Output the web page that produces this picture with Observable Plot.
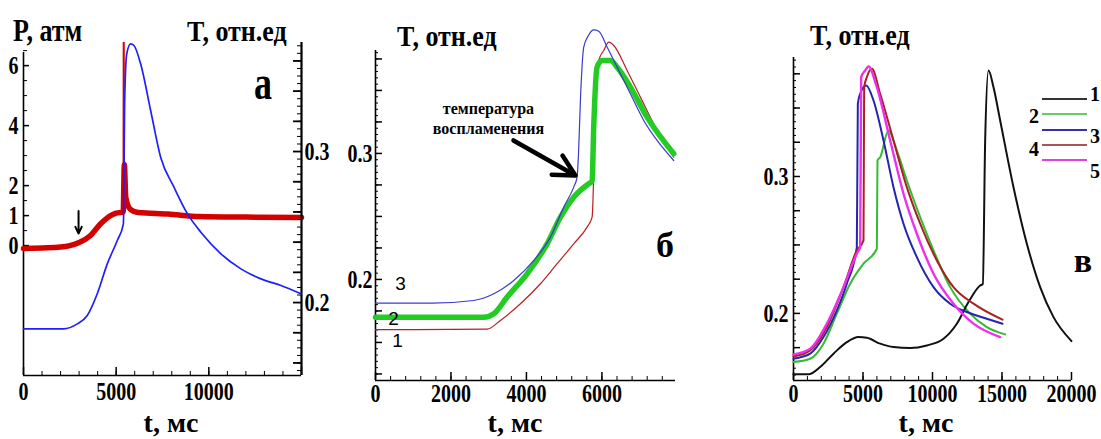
<!DOCTYPE html>
<html><head><meta charset="utf-8">
<script src="https://cdn.jsdelivr.net/npm/d3@7"></script>
<script src="https://cdn.jsdelivr.net/npm/@observablehq/plot@0.6"></script>
<style>
body{margin:0;background:#fff;}
#wrap{position:relative;width:1101px;height:439px;overflow:hidden;background:#fff;color:#000;}
</style></head><body><div id="wrap"></div>
<script>
// ---------- Panel а : pressure (red) and temperature (blue) ----------
const aTimeP = [0,1000,2000,2500,3000,3600,4150,4700,5000,5380,5440,5520,5750,6200,7800,9500,12000,15000];
const aPres  = [-0.1,-0.08,-0.05,0,0.1,0.33,0.72,1.0,1.08,1.12,2.7,1.6,1.22,1.1,1.05,0.97,0.95,0.94];
const aSpikeTime = [5390,5405,5430];
const aSpikeP    = [1.12,9,2.7];
const aTimeT = [0,2160,2900,3440,3980,4520,5060,5390,5460,5570,5780,5960,6320,6860,7400,8120,8850,9570,10650,11730,12810,13890,14970];
const aTemp  = [0.1826,0.1826,0.1859,0.1914,0.2058,0.2256,0.2411,0.2521,0.3338,0.3647,0.3713,0.3702,0.3581,0.3272,0.2962,0.2764,0.2587,0.2466,0.2323,0.2223,0.2157,0.2113,0.2058];
const aArrow = {t: 2970, p1: 1.15, p2: 0.4};
const aXLabels = [0,5000,10000];
const aPLabels = [0,1,2,4,6];
const aTLabels = [0.2,0.3];

// ---------- Panel б ----------
const bTime3 = [0,1500,2600,3135,3665,4195,4636,4989,5253,5342,5380,5430,5518,5650,5783,5916,6137,6402,6755,7108,7462,7903];
const bTemp3 = [0.1812,0.1812,0.1833,0.1886,0.1992,0.2151,0.2336,0.2574,0.2733,0.2812,0.30,0.342,0.3844,0.394,0.398,0.397,0.3844,0.3685,0.3474,0.3262,0.3103,0.2944];
const bTime2 = [0,2870,3135,3488,4018,4548,4901,5253,5651,5740,5783,5872,6005,6225,6402,6755,7197,7903];
const bTemp2 = [0.170,0.170,0.1728,0.186,0.2045,0.2283,0.2494,0.2653,0.276,0.278,0.321,0.3685,0.3738,0.3738,0.3685,0.3526,0.3288,0.2998];
const bTime1 = [0,2958,3311,3841,4371,4813,5253,5607,5740,5790,5828,5916,6048,6181,6314,6667,7020,7462,7903];
const bTemp1 = [0.1601,0.1605,0.1675,0.1807,0.1966,0.2125,0.2283,0.2415,0.2494,0.29,0.3288,0.3738,0.3817,0.3883,0.3857,0.3659,0.3447,0.3183,0.297];
const bCurveLabels = [{t:662,T:0.1968,s:"3"},{t:477,T:0.169,s:"2"},{t:583,T:0.1516,s:"1"}];
const bNote = {t:2993, T:0.3282, s:"температура\nвоспламенения"};
const bArrow = {t1:3656, T1:0.3103, t2:5298, T2:0.2825};
const bXLabels = [0,2000,4000,6000];
const bTLabels = [0.2,0.3];

// ---------- Panel в ----------
const vTime1 = [0,1079,1918,2878,3837,4676,5276,6235,7194,8393,9592,10791,11750,12590,13429,13621,13789,14029,14389,14868,15827,16787,17746,18705,20000];
const vTemp1 = [0.1555,0.1555,0.1608,0.1706,0.179,0.1827,0.1822,0.1779,0.1754,0.1747,0.1766,0.1815,0.1925,0.2083,0.2204,0.2215,0.3263,0.3774,0.3652,0.3409,0.2922,0.2509,0.2192,0.1973,0.1798];
const vTime2 = [0,1199,2158,3117,4077,5036,5995,6043,6235,6835,7434,8153,9112,10072,11271,12710,13909,15228];
const vTemp2 = [0.1645,0.1669,0.1779,0.1998,0.2217,0.2363,0.2472,0.3117,0.314,0.3336,0.319,0.2971,0.2703,0.246,0.2192,0.1998,0.19,0.1847];
const vTime3 = [0,1199,2158,3117,3837,4556,4628,4796,5227,5755,6475,7194,7913,8873,10072,11271,12470,13909,15036];
const vTemp3 = [0.1669,0.1706,0.1827,0.2022,0.2217,0.2484,0.353,0.3604,0.3664,0.3555,0.3263,0.2922,0.2655,0.2411,0.2192,0.2071,0.201,0.1961,0.1925];
const vTime4 = [0,1199,2398,3597,4556,5036,5084,5276,5636,6235,7194,8153,9112,10312,11511,12950,15036];
const vTemp4 = [0.1686,0.173,0.19,0.2192,0.246,0.2533,0.3652,0.3725,0.3786,0.3604,0.3263,0.2922,0.2655,0.2387,0.2192,0.2071,0.1954];
const vTime5 = [0,1199,2398,3597,4556,4796,4868,5156,5396,5995,6955,7913,8873,10072,11511,12950,14868];
const vTemp5 = [0.17,0.1742,0.1925,0.2192,0.2436,0.2484,0.3725,0.3774,0.3803,0.3652,0.3263,0.2874,0.2582,0.229,0.2071,0.1925,0.1827];
const vXLabels = [0,5000,10000,15000,20000];
const vTLabels = [0.2,0.3];
const vLegend = ["1","2","3","4","5"];

// ---------- helpers ----------
const H = 439;
const wrap = document.getElementById("wrap");
const SERIF = '"Liberation Serif","Times New Roman",serif';
const baseStyle = {fontFamily: SERIF, fontWeight: "bold", fontSize: "20px", background: "transparent", overflow: "visible", color: "black"};
const zip = (ts, vs) => ts.map((t, i) => ({t, v: vs[i]}));
const range = (a, b, s) => d3.range(Math.round(a / s), Math.round(b / s) + 1).map(k => +(k * s).toFixed(6));
const CURVE = "monotone-x";

function place(svg, left) {
  svg.style.position = "absolute"; svg.style.left = left + "px"; svg.style.top = "0px";
  svg.querySelectorAll('g[aria-label$="tick label"] text').forEach(t => {
    const tr = t.getAttribute("transform");
    if (tr && tr.startsWith("translate")) t.setAttribute("transform", tr + " scale(1,1.3)");
  });
  wrap.appendChild(svg);
}
// label: baseline-positioned HTML text (line box kept tight around glyphs)
const LH = 0.7, BASE_EM = (LH - 1.107) / 2 + 0.891;
function label(text, x, base, size, sy, align = "left") {
  const d = document.createElement("div");
  d.textContent = text;
  d.style.cssText = `position:absolute;white-space:nowrap;line-height:${LH};font-family:${SERIF};font-weight:bold;font-size:${size}px;left:${x}px;top:${base - BASE_EM * size * sy}px;transform-origin:0 0;transform:${align === "center" ? "translateX(-50%) " : ""}scaleY(${sy});`;
  wrap.appendChild(d);
}

// ---------- Panel а ----------
const aW = 340, aM = {l: 23, r: 39, t: 42, b: 64};
const aFW = aW - aM.l - aM.r, aFH = H - aM.t - aM.b;
const aPDom = [-4.33, 6.77], aTDom = [0.1517, 0.3722], aXDom = [0, 15000];
const a1 = Plot.plot({
  width: aW, height: H, marginLeft: aM.l, marginRight: aM.r, marginTop: aM.t, marginBottom: aM.b,
  style: baseStyle, x: {domain: aXDom}, y: {domain: aPDom},
  marks: [
    Plot.ruleY([aPDom[0]], {strokeWidth: 1.6}),
    Plot.ruleX([0], {insetTop: 10, strokeWidth: 1.6}),
    Plot.tickX(range(0, 15000, 1000), {x: d => d, insetTop: aFH - 4}),
    Plot.tickX(range(0, 15000, 5000), {x: d => d, insetTop: aFH - 8, strokeWidth: 1.5}),
    Plot.tickY(range(0, 6.5, 0.5), {y: d => d, insetRight: aFW - 4}),
    Plot.tickY(aPLabels, {y: d => d, insetRight: aFW - 6, strokeWidth: 1.5}),
    Plot.axisX({ticks: aXLabels, tickSize: 0, tickPadding: 6, tickFormat: d => String(d), label: null}),
    Plot.axisY({ticks: aPLabels, tickSize: 0, tickPadding: 5, tickFormat: d => String(d), label: null}),
    Plot.line(zip(aTimeP, aPres), {x: "t", y: "v", stroke: "#d40000", strokeWidth: 5.5, curve: CURVE}),
    Plot.line(zip(aSpikeTime, aSpikeP), {x: "t", y: "v", stroke: "#d40000", strokeWidth: 1.8, clip: true}),
    Plot.arrow([aArrow], {x1: "t", y1: "p1", x2: "t", y2: "p2", stroke: "black", strokeWidth: 2, headLength: 8, headAngle: 50})
  ]
});
place(a1, 0);
const a2 = Plot.plot({
  width: aW, height: H, marginLeft: aM.l, marginRight: aM.r, marginTop: aM.t, marginBottom: aM.b,
  style: baseStyle, x: {domain: aXDom, axis: null}, y: {domain: aTDom},
  marks: [
    Plot.ruleX([aXDom[1]], {strokeWidth: 2.2}),
    Plot.tickY(range(0.155, 0.37, 0.005), {y: d => d, insetLeft: aFW - 4}),
    Plot.tickY(range(0.16, 0.36, 0.02), {y: d => d, insetLeft: aFW - 8, strokeWidth: 1.8}),
    Plot.axisY({anchor: "right", ticks: aTLabels, tickSize: 0, tickPadding: 3, tickFormat: d => String(d), label: null}),
    Plot.line(zip(aTimeT, aTemp), {x: "t", y: "v", stroke: "#1f1fff", strokeWidth: 1.7, curve: CURVE})
  ]
});
place(a2, 0);

// ---------- Panel б ----------
const bW = 370, bM = {l: 45, r: 25, t: 50, b: 59};
const bFW = bW - bM.l - bM.r, bFH = H - bM.t - bM.b;
const bTDom = [0.1198, 0.3817], bXDom = [0, 7950];
const b = Plot.plot({
  width: bW, height: H, marginLeft: bM.l, marginRight: bM.r, marginTop: bM.t, marginBottom: bM.b,
  style: baseStyle, x: {domain: bXDom}, y: {domain: bTDom},
  marks: [
    Plot.ruleY([bTDom[0]], {strokeWidth: 1.6}),
    Plot.ruleX([0], {strokeWidth: 1.6}),
    Plot.tickX(range(0, 7600, 400), {x: d => d, insetTop: bFH - 4}),
    Plot.tickX(range(0, 6000, 2000), {x: d => d, insetTop: bFH - 8, strokeWidth: 1.5}),
    Plot.tickY(range(0.125, 0.38, 0.005), {y: d => d, insetRight: bFW - 3}),
    Plot.tickY(range(0.125, 0.375, 0.025), {y: d => d, insetRight: bFW - 7, strokeWidth: 1.5}),
    Plot.axisX({ticks: bXLabels, tickSize: 0, tickPadding: 3, tickFormat: d => String(d), label: null}),
    Plot.axisY({ticks: bTLabels, tickSize: 0, tickPadding: 3, tickFormat: d => String(d), label: null}),
    Plot.line(zip(bTime1, bTemp1), {x: "t", y: "v", stroke: "#b82020", strokeWidth: 1.2, curve: CURVE}),
    Plot.line(zip(bTime2, bTemp2), {x: "t", y: "v", stroke: "#22cc22", strokeWidth: 5.5, curve: CURVE}),
    Plot.line(zip(bTime3, bTemp3), {x: "t", y: "v", stroke: "#3b3bcc", strokeWidth: 1.2, curve: CURVE}),
    Plot.text(bCurveLabels, {x: "t", y: "T", text: "s", fontFamily: '"Liberation Sans",Arial,sans-serif', fontWeight: "normal", fontSize: 19}),
    Plot.text([bNote], {x: "t", y: "T", text: "s", fontSize: 16, fontWeight: "bold", lineHeight: 1.2}),
    Plot.arrow([bArrow], {x1: "t1", y1: "T1", x2: "t2", y2: "T2", stroke: "black", strokeWidth: 4.5, headLength: 15, headAngle: 55})
  ]
});
place(b, 330);

// ---------- Panel в ----------
const vW = 351, vM = {l: 43, r: 30, t: 57, b: 59};
const vFW = vW - vM.l - vM.r, vFH = H - vM.t - vM.b;
const vTDom = [0.151, 0.3869], vXDom = [0, 20000];
const v = Plot.plot({
  width: vW, height: H, marginLeft: vM.l, marginRight: vM.r, marginTop: vM.t, marginBottom: vM.b,
  style: baseStyle, x: {domain: vXDom}, y: {domain: vTDom},
  marks: [
    Plot.ruleY([vTDom[0]], {strokeWidth: 1.6}),
    Plot.ruleX([0], {strokeWidth: 1.6}),
    Plot.tickX(range(0, 20000, 1000), {x: d => d, insetTop: vFH - 4}),
    Plot.tickX(range(0, 20000, 5000), {x: d => d, insetTop: vFH - 8, strokeWidth: 1.5}),
    Plot.tickY(range(0.155, 0.385, 0.005), {y: d => d, insetRight: vFW - 3}),
    Plot.tickY(range(0.175, 0.375, 0.025), {y: d => d, insetRight: vFW - 7, strokeWidth: 1.5}),
    Plot.axisX({ticks: vXLabels, tickSize: 0, tickPadding: 3, tickFormat: d => String(d), label: null}),
    Plot.axisY({ticks: vTLabels, tickSize: 0, tickPadding: 5, tickFormat: d => String(d), label: null}),
    Plot.line(zip(vTime2, vTemp2), {x: "t", y: "v", stroke: "#33bb33", strokeWidth: 2, curve: CURVE}),
    Plot.line(zip(vTime1, vTemp1), {x: "t", y: "v", stroke: "#111111", strokeWidth: 2, curve: CURVE}),
    Plot.line(zip(vTime3, vTemp3), {x: "t", y: "v", stroke: "#2424b0", strokeWidth: 2, curve: CURVE}),
    Plot.line(zip(vTime4, vTemp4), {x: "t", y: "v", stroke: "#aa2020", strokeWidth: 2, curve: CURVE}),
    Plot.line(zip(vTime5, vTemp5), {x: "t", y: "v", stroke: "#ee30ee", strokeWidth: 2.4, curve: CURVE})
  ]
});
place(v, 750);

// ---------- titles and letters ----------
label("P, атм", 13, 42, 26, 1.2);
label("T, отн.ед", 187, 42, 26, 1.12);
label("а", 263, 100, 36, 1.35, "center");
label("t, мс", 171, 432.5, 28, 1.0, "center");
label("T, отн.ед", 397, 47, 26, 1.12);
label("б", 665, 258, 36, 1.0, "center");
label("t, мс", 515, 432.5, 28, 1.0, "center");
label("T, отн.ед", 810, 46, 26, 1.12);
label("в", 1083, 272, 34, 1.0, "center");
label("t, мс", 926, 432.5, 28, 1.0, "center");

// ---------- legend for panel в ----------
const legColors = ["#333333", "#66cc66", "#3333aa", "#aa5555", "#dd44dd"];
const legY = [99, 114, 130, 145, 160];
const legLab = [{x: 1090, b: 100}, {x: 1029, b: 122}, {x: 1090, b: 142}, {x: 1029, b: 155}, {x: 1090, b: 177}];
const ls = document.createElementNS("http://www.w3.org/2000/svg", "svg");
ls.setAttribute("width", 1101); ls.setAttribute("height", 439);
ls.style.cssText = "position:absolute;left:0;top:0;pointer-events:none;";
vLegend.forEach((s, i) => {
  const ln = document.createElementNS("http://www.w3.org/2000/svg", "line");
  ln.setAttribute("x1", 1042); ln.setAttribute("x2", 1087);
  ln.setAttribute("y1", legY[i]); ln.setAttribute("y2", legY[i]);
  ln.setAttribute("stroke", legColors[i]); ln.setAttribute("stroke-width", 1.8);
  ls.appendChild(ln);
});
wrap.appendChild(ls);
vLegend.forEach((s, i) => label(s, legLab[i].x, legLab[i].b, 20, 1.05));
</script>
</body></html>
